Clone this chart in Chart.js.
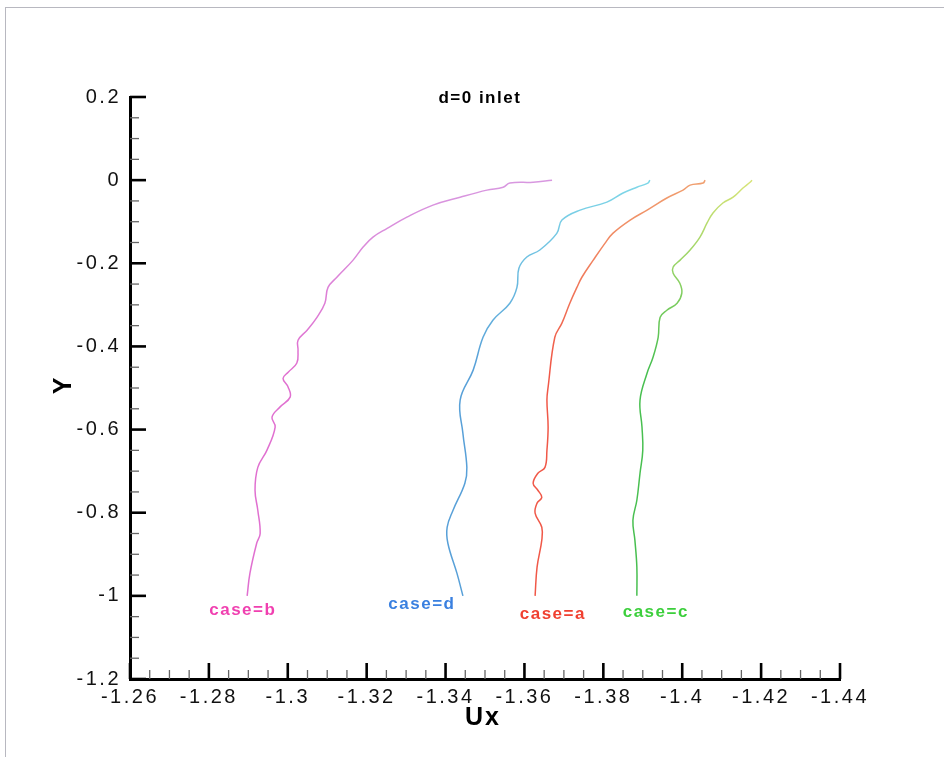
<!DOCTYPE html>
<html lang="en">
<head>
  <meta charset="UTF-8">
  <title>d=0 inlet</title>
  <script src="https://cdn.jsdelivr.net/npm/chart.js"></script>
  <style>
    body {
      margin: 0;
      background: #ffffff;
      font-family: 'Liberation Sans', Arial, sans-serif;
    }
    #wrap {
      position: relative;
      width: 944px;
      height: 757px;
      overflow: hidden;
    }
    #frame {
      position: absolute;
      left: 5px;
      top: 7px;
      width: 960px;
      height: 760px;
      border-top: 1px solid #b8b8c0;
      border-left: 1px solid #b8b8c0;
      pointer-events: none;
    }
    canvas { position: absolute; left: 0; top: 0; }
  </style>
</head>
<body>
  <div id="wrap">
    <canvas id="chart" width="944" height="757"></canvas>
    <div id="frame"></div>
  </div>
  <script>
    // profile values, from Y=-1 up to the inlet (Y=0)
    const caseA_x = [-1.3627, -1.3632, -1.3644, -1.3644, -1.3627, -1.3632, -1.3644, -1.3634, -1.3622, -1.3634, -1.3652,
                     -1.3657, -1.3660, -1.3657, -1.3660, -1.3677, -1.3695, -1.3715, -1.3733, -1.3746, -1.3774, -1.3804,
                     -1.3824, -1.3868, -1.3911, -1.3961, -1.4002, -1.4020, -1.4053, -1.4058];
    const caseA_y = [-1.0, -0.931, -0.866, -0.835, -0.801, -0.777, -0.763, -0.746, -0.729, -0.705, -0.691,
                     -0.650, -0.594, -0.529, -0.498, -0.378, -0.344, -0.296, -0.258, -0.233, -0.193, -0.152,
                     -0.128, -0.096, -0.072, -0.043, -0.024, -0.012, -0.007, 0.0];

    const caseB_x = [-1.2897, -1.2904, -1.2921, -1.2930, -1.2924, -1.2917, -1.2924, -1.2947, -1.2968, -1.2960, -1.2980,
                     -1.3006, -1.3001, -1.2988, -1.3001, -1.3023, -1.3026, -1.3026, -1.3049, -1.3074, -1.3094, -1.3102,
                     -1.3125, -1.3165, -1.3191, -1.3216, -1.3252, -1.3302, -1.3368, -1.3437, -1.3505, -1.3546, -1.3563,
                     -1.3622, -1.3670];
    const caseB_y = [-1.0, -0.946, -0.874, -0.850, -0.794, -0.746, -0.691, -0.650, -0.594, -0.570, -0.546,
                     -0.522, -0.498, -0.477, -0.462, -0.440, -0.409, -0.385, -0.361, -0.330, -0.296, -0.258,
                     -0.233, -0.193, -0.161, -0.137, -0.116, -0.089, -0.060, -0.041, -0.024, -0.017, -0.007,
                     -0.005, 0.0];

    const caseC_x = [-1.3885, -1.3885, -1.3880, -1.3875, -1.3885, -1.3893, -1.3900, -1.3898, -1.3893, -1.3911, -1.3926,
                     -1.3939, -1.3944, -1.3961, -1.3987, -1.3999, -1.3994, -1.3977, -1.3977, -1.3994, -1.4020, -1.4045,
                     -1.4063, -1.4078, -1.4103, -1.4129, -1.4154, -1.4172, -1.4177];
    const caseC_y = [-1.0, -0.931, -0.866, -0.818, -0.770, -0.705, -0.650, -0.594, -0.529, -0.464, -0.426,
                     -0.378, -0.330, -0.313, -0.296, -0.272, -0.248, -0.224, -0.209, -0.193, -0.168, -0.137,
                     -0.103, -0.079, -0.055, -0.041, -0.019, -0.005, 0.0];

    const caseD_x = [-1.3444, -1.3429, -1.3406, -1.3404, -1.3419, -1.3449, -1.3454, -1.3444, -1.3437, -1.3470, -1.3495,
                     -1.3520, -1.3563, -1.3581, -1.3586, -1.3606, -1.3639, -1.3682, -1.3695, -1.3741, -1.3809, -1.3850,
                     -1.3885, -1.3913, -1.3918];
    const caseD_y = [-1.0, -0.946, -0.874, -0.835, -0.794, -0.729, -0.691, -0.609, -0.529, -0.457, -0.378,
                     -0.337, -0.296, -0.258, -0.212, -0.185, -0.168, -0.128, -0.096, -0.072, -0.053, -0.031,
                     -0.017, -0.007, 0.0];

    // labels written next to the curves (in data coordinates)
    const caseNames = ["case=a", "case=b", "case=c", "case=d"];
    const caseLabelX = [-1.3672, -1.2886, -1.3933, -1.3340];
    const caseLabelY = [-1.045, -1.035, -1.040, -1.020];
    const titleText = "d=0 inlet";
    const titleX = -1.3487, titleY = 0.197;

    const xMin = -1.44, xMax = -1.26, xMinor = 0.005, xMajor = 0.02;
    const yMin = -1.2, yMax = 0.2, yMinor = 0.05, yMajor = 0.2;

    // colours: bottom of the curve, top of the curve, label
    const lineBottom = ["#f05848", "#e070d0", "#48bf50", "#58a0d8"];
    const lineTop = ["#f0a070", "#d898e0", "#d8e478", "#80d8e8"];
    const labelColor = ["#f04030", "#f040b0", "#3ccf3c", "#3a80e0"];

    const FONT = "'Liberation Sans', Arial, sans-serif";

    function pairs(xs, ys) {
      return xs.map((x, i) => ({ x: x, y: ys[i] }));
    }
    function isMult(v, step) {
      const r = v / step;
      return Math.abs(r - Math.round(r)) < 1e-6;
    }
    function fmt(v) {
      return parseFloat(v.toFixed(3)).toString();
    }

    function gradientFor(i) {
      return (ctx) => {
        const chart = ctx.chart;
        if (!chart.chartArea) return lineBottom[i];
        const y = chart.scales.y;
        const g = chart.ctx.createLinearGradient(0, y.getPixelForValue(-1), 0, y.getPixelForValue(0));
        g.addColorStop(0, lineBottom[i]);
        g.addColorStop(0.55, lineBottom[i]);
        g.addColorStop(1, lineTop[i]);
        return g;
      };
    }

    const allX = [caseA_x, caseB_x, caseC_x, caseD_x];
    const allY = [caseA_y, caseB_y, caseC_y, caseD_y];
    const datasets = caseNames.map((name, i) => ({
      label: name,
      data: pairs(allX[i], allY[i]),
      showLine: true,
      borderColor: gradientFor(i),
      borderWidth: 1.5,
      pointRadius: 0,
      tension: 0.4,
      fill: false
    }));

    // letter spacing for all canvas text, the original uses wide type
    const spacingPlugin = {
      id: "spacing",
      beforeDraw(chart) { chart.ctx.letterSpacing = "2.5px"; }
    };

    // inward tick marks, major and minor
    const tickPlugin = {
      id: "inwardTicks",
      afterDraw(chart) {
        const c = chart.ctx, a = chart.chartArea;
        const xs = chart.scales.x, ys = chart.scales.y;
        c.save();
        xs.ticks.forEach(t => {
          const px = xs.getPixelForValue(t.value);
          const major = isMult(t.value, xMajor);
          c.beginPath();
          c.lineWidth = major ? 2.6 : 1.3;
          c.strokeStyle = major ? "#000" : "#666";
          c.moveTo(px, a.bottom);
          c.lineTo(px, a.bottom - (major ? 16 : 9));
          c.stroke();
        });
        ys.ticks.forEach(t => {
          const py = ys.getPixelForValue(t.value);
          const major = isMult(t.value, yMajor);
          c.beginPath();
          c.lineWidth = major ? 2.6 : 1.3;
          c.strokeStyle = major ? "#000" : "#666";
          c.moveTo(a.left, py);
          c.lineTo(a.left + (major ? 16 : 9), py);
          c.stroke();
        });
        c.restore();
      }
    };

    // title, curve labels and axis names
    const textPlugin = {
      id: "texts",
      afterDraw(chart) {
        const c = chart.ctx, a = chart.chartArea;
        const xs = chart.scales.x, ys = chart.scales.y;
        c.save();
        c.letterSpacing = "1.5px";
        c.textAlign = "center";
        c.textBaseline = "middle";
        c.fillStyle = "#000";
        c.font = "bold 17px " + FONT;
        c.fillText(titleText, xs.getPixelForValue(titleX), ys.getPixelForValue(titleY));
        caseNames.forEach((n, i) => {
          c.fillStyle = labelColor[i];
          c.fillText(n, xs.getPixelForValue(caseLabelX[i]), ys.getPixelForValue(caseLabelY[i]));
        });
        c.letterSpacing = "2px";
        c.fillStyle = "#000";
        c.font = "bold 25px " + FONT;
        c.fillText("Ux", (a.left + a.right) / 2 - 2, a.bottom + 39);
        c.translate(a.left - 66, (a.top + a.bottom) / 2 - 3);
        c.rotate(-Math.PI / 2);
        c.fillText("Y", 0, 0);
        c.restore();
      }
    };

    new Chart(document.getElementById("chart"), {
      type: "scatter",
      data: { datasets },
      options: {
        responsive: false,
        animation: false,
        layout: { padding: { left: 0, top: 97, right: 104, bottom: 0 } },
        plugins: {
          legend: { display: false },
          tooltip: { enabled: false }
        },
        scales: {
          x: {
            type: "linear",
            reverse: true,
            min: xMin,
            max: xMax,
            afterFit: (s) => { s.height = 78; },
            grid: { display: false, drawTicks: false },
            border: { display: true, color: "#000", width: 3 },
            ticks: {
              stepSize: xMinor,
              autoSkip: false,
              maxRotation: 0,
              padding: 6,
              color: "#111",
              font: { family: FONT, size: 20 },
              callback: (v) => isMult(v, xMajor) ? fmt(v) : ""
            }
          },
          y: {
            type: "linear",
            min: yMin,
            max: yMax,
            afterFit: (s) => { s.width = 130; },
            grid: { display: false, drawTicks: false },
            border: { display: true, color: "#000", width: 3 },
            ticks: {
              stepSize: yMinor,
              autoSkip: false,
              padding: 9,
              color: "#111",
              font: { family: FONT, size: 20 },
              callback: (v) => isMult(v, yMajor) ? fmt(v) : ""
            }
          }
        }
      },
      plugins: [spacingPlugin, tickPlugin, textPlugin]
    });
  </script>
</body>
</html>
